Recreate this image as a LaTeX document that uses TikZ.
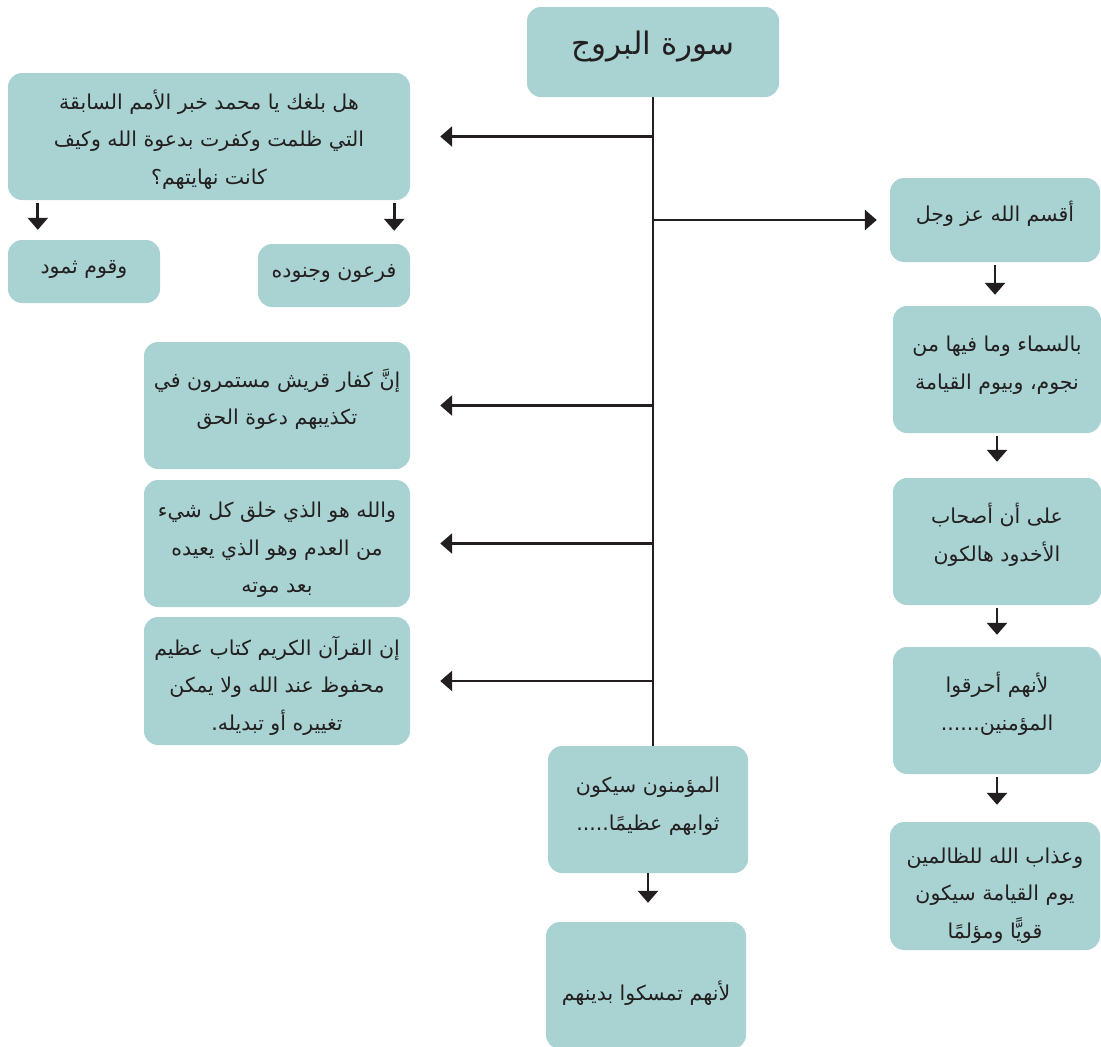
\documentclass[tikz,border=0pt]{standalone}
\usepackage{fontspec}
\newfontfamily\arabicfont[Script=Arabic]{DejaVu Sans}
\TeXXeTstate=1
\usepackage{tikz}
\usetikzlibrary{arrows.meta}
\definecolor{boxfill}{RGB}{169,211,211}
\definecolor{ink}{RGB}{35,31,32}
\newcommand{\artxt}[1]{\beginR#1\endR}
\tikzset{
  box/.style={fill=boxfill, rounded corners=14pt, align=center, text=ink, inner sep=0pt, text depth=18pt,
    font=\arabicfont\fontsize{20.5}{37.5}\selectfont},
  threeline/.style={box, text depth=0pt, text height=98pt},
  arr/.style={draw=ink, line width=2.8pt, -{Triangle[length=12pt,width=20pt]}, shorten <=3pt, shorten >=13pt}
}

\begin{document}
\begin{tikzpicture}[x=1pt,y=-1pt]
		%\draw [help lines] (0,0) grid (1101,1047);
		\useasboundingbox (0,0) rectangle (1101,1047);
		\node [box, minimum width=252pt, minimum height=90pt, font=\arabicfont\fontsize{31}{36}\selectfont] (title) at (653,52) {\artxt{سورة البروج}};
		% left side
		\node [threeline, minimum width=402pt, minimum height=127pt, text height=95pt] (past) at (209,136.5) {\artxt{هل بلغك يا محمد خبر الأمم السابقة}\\\artxt{التي ظلمت وكفرت بدعوة الله وكيف}\\\artxt{كانت نهايتهم؟}};
		\node [box, minimum width=152pt, minimum height=63pt, text depth=10pt] (thamud) at (84,271.5) {\artxt{وقوم ثمود}};
		\node [box, minimum width=152pt, minimum height=63pt, text depth=10pt] (firaun) at (334,275.5) {\artxt{فرعون وجنوده}};
		\node [box, minimum width=266pt, minimum height=127pt] (quraysh) at (277,405.5) {\artxt{إنَّ كفار قريش مستمرون في}\\\artxt{تكذيبهم دعوة الحق}};
		\node [threeline, minimum width=266pt, minimum height=127pt] (creation) at (277,543.5) {\artxt{والله هو الذي خلق كل شيء}\\\artxt{من العدم وهو الذي يعيده}\\\artxt{بعد موته}};
		\node [threeline, minimum width=266pt, minimum height=128pt] (quran) at (277,681) {\artxt{إن القرآن الكريم كتاب عظيم}\\\artxt{محفوظ عند الله ولا يمكن}\\\artxt{تغييره أو تبديله.}};
		% middle
		\node [box, minimum width=200pt, minimum height=127pt, text depth=12pt] (believers) at (648,809.5) {\artxt{المؤمنون سيكون}\\\artxt{ثوابهم عظيمًا.....}};
		\node [box, minimum width=200pt, minimum height=127pt, text depth=0pt, text height=30pt] (faith) at (646,985.5) {\artxt{لأنهم تمسكوا بدينهم}};
		% right side
		\node [box, minimum width=210pt, minimum height=84pt] (oath) at (995,220) {\artxt{أقسم الله عز وجل}};
		\node [box, minimum width=208pt, minimum height=127pt, text depth=14pt] (sky) at (997,369.5) {\artxt{بالسماء وما فيها من}\\\artxt{نجوم، وبيوم القيامة}};
		\node [box, minimum width=208pt, minimum height=127pt] (trench) at (997,541.5) {\artxt{على أن أصحاب}\\\artxt{الأخدود هالكون}};
		\node [box, minimum width=208pt, minimum height=127pt] (burned) at (997,710.5) {\artxt{لأنهم أحرقوا}\\\artxt{المؤمنين......}};
		\node [threeline, minimum width=210pt, minimum height=128pt, text height=104pt] (torment) at (995,886) {\artxt{وعذاب الله للظالمين}\\\artxt{يوم القيامة سيكون}\\\artxt{قويًّا ومؤلمًا}};
		% trunk and branches
		\draw [draw=ink, line width=2.8pt] (title.south) -- (title.south |- believers.north);
		\draw [arr, shorten <=0pt, shorten >=30pt] (title.south |- past.east) -- (past.east);
		\draw [arr, shorten <=0pt, shorten >=30pt] (title.south |- quraysh.east) -- (quraysh.east);
		\draw [arr, shorten <=0pt, shorten >=30pt] (title.south |- creation.east) -- (creation.east);
		\draw [arr, shorten <=0pt, shorten >=30pt] (title.south |- quran.east) -- (quran.east);
		\draw [arr, shorten <=0pt] (title.south |- oath.west) -- (oath.west);
		% down arrows
		\draw [arr, shorten >=10pt] ([xshift=30pt]past.south west) -- ([xshift=30pt]past.south west |- thamud.north);
		\draw [arr] ([xshift=-16pt]past.south east) -- ([xshift=-16pt]past.south east |- firaun.north);
		\draw [arr, shorten >=11pt] (oath.south) -- (oath.south |- sky.north);
		\draw [arr, shorten >=16pt] (sky.south) -- (sky.south |- trench.north);
		\draw [arr, shorten >=12pt] (trench.south) -- (trench.south |- burned.north);
		\draw [arr, shorten >=17pt] (burned.south) -- (burned.south |- torment.north);
		\draw [arr, shorten <=0pt, shorten >=19pt] (believers.south) -- (believers.south |- faith.north);
	\end{tikzpicture}
\end{document}
